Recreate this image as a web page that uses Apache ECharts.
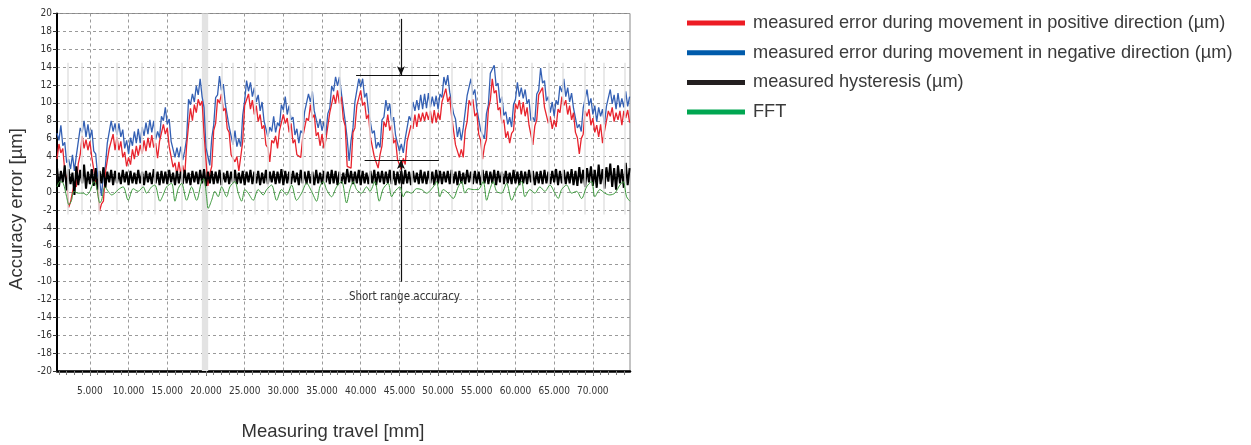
<!DOCTYPE html>
<html>
<head>
<meta charset="utf-8">
<script src="https://cdn.jsdelivr.net/npm/echarts@6/dist/echarts.min.js"></script>
<style>
html,body{margin:0;padding:0;background:#fff;}
#chart{width:1251px;height:445px;}
</style>
</head>
<body>
<div id="chart"></div>
<script>
// ---- data ----
const seriesNames = [
  'measured error during movement in positive direction (µm)',
  'measured error during movement in negative direction (µm)',
  'measured hysteresis (µm)',
  'FFT'
];
const xStart = 750;     // first sample position [mm]
const xStep = 250;      // sampling step [mm]

const negativeDir = [
  6.6,5.8,7.5,5.2,5.6,3.3,3.7,2.6,4.2,2.4,
  4.1,4.3,7.2,6.7,8.0,6.2,7.6,6.0,7.0,4.6,
  4.3,1.8,1.3,-0.4,2.1,2.9,5.5,5.4,8.0,6.8,
  7.7,6.4,7.7,6.2,7.0,4.9,5.8,4.3,6.1,5.2,
  6.8,5.5,7.1,5.5,7.3,6.3,7.8,6.5,8.1,6.7,
  8.0,5.9,6.8,6.1,8.5,8.0,9.5,7.6,8.2,5.7,
  5.8,3.9,5.0,3.9,5.1,3.6,4.6,6.0,10.4,9.8,
  11.0,10.1,11.9,10.9,12.7,10.7,9.5,5.0,4.0,3.0,
  6.1,7.5,10.6,10.9,13.0,11.4,12.1,9.9,10.0,7.3,
  7.1,5.3,6.9,5.1,6.0,5.1,8.6,10.2,12.5,11.3,
  12.3,10.7,11.7,10.1,10.9,9.1,10.1,8.0,8.2,6.2,
  7.3,6.8,8.5,6.7,7.8,7.4,9.8,9.2,10.7,8.7,
  9.7,8.1,8.4,6.4,7.1,5.5,6.9,6.6,9.0,8.8,
  11.0,10.1,11.3,9.1,9.2,7.2,8.2,6.9,7.9,6.4,
  8.8,9.4,11.9,11.3,12.9,11.9,12.9,11.1,11.1,7.9,
  6.0,3.5,5.8,7.2,10.1,10.2,12.7,11.8,12.7,10.6,
  11.1,9.1,9.1,6.6,6.9,4.9,5.6,5.0,8.1,8.4,
  10.3,9.1,9.9,7.9,8.4,6.4,6.6,4.6,5.4,4.4,
  6.0,6.2,8.5,8.0,10.1,9.1,10.3,9.2,10.9,9.3,
  11.0,9.4,11.1,9.5,10.7,9.6,10.8,9.3,11.0,10.6,
  12.9,12.0,13.1,11.2,11.4,8.8,8.2,6.2,7.3,5.8,
  7.2,7.4,10.8,10.8,12.7,10.9,11.5,9.4,9.4,6.9,
  6.7,6.0,8.8,9.8,13.3,13.2,14.2,11.9,12.2,10.0,
  10.7,8.6,9.0,7.6,8.4,7.3,9.8,10.4,12.3,10.7,
  11.7,10.5,11.5,9.9,10.4,8.0,8.4,7.9,11.0,11.4,
  13.9,12.2,12.5,10.2,10.7,8.9,10.1,8.5,10.3,9.8,
  11.9,11.2,12.7,10.7,11.7,10.1,11.1,9.4,9.6,7.2,
  7.6,6.8,9.4,9.6,11.5,9.7,10.5,8.7,9.7,7.9,
  9.5,8.5,9.3,7.6,9.6,9.6,11.5,9.9,10.9,9.3,
  11.1,9.5,10.5,9.5,11.3,9.6,10.7
];

const positiveDir = [
  3.7,5.4,4.4,4.9,2.4,1.5,-1.7,-1.1,-1.0,1.1,
  0.6,3.2,4.2,6.3,4.9,5.9,4.7,5.7,3.9,4.1,
  1.2,0.7,-2.1,-1.3,-1.0,2.2,2.4,4.9,4.9,6.5,
  4.7,6.2,4.7,5.7,3.9,4.5,2.9,3.9,3.1,4.8,
  3.7,5.2,4.1,5.3,4.3,5.8,4.6,6.1,5.0,6.4,
  5.0,5.5,3.8,5.7,5.5,7.6,6.5,7.2,5.1,5.3,
  2.8,3.3,1.9,3.4,2.0,3.0,1.8,5.2,7.5,9.4,
  8.0,9.8,8.9,10.4,9.7,10.2,6.6,3.7,0.7,2.1,
  2.9,6.9,7.7,10.4,10.0,11.0,9.1,9.4,7.1,6.7,
  4.2,4.4,3.4,4.0,2.4,4.0,5.7,9.7,9.5,11.0,
  9.3,10.3,8.7,9.7,7.9,8.7,7.1,7.5,5.3,5.0,
  3.4,5.8,5.5,6.3,4.9,6.9,6.9,8.7,7.7,8.3,
  6.7,7.7,5.5,5.9,4.2,4.3,3.9,6.1,6.0,8.3,
  8.0,9.8,8.3,8.7,6.3,6.7,5.2,6.5,4.9,5.9,
  5.9,8.9,8.9,10.9,9.9,11.4,9.9,10.7,8.2,7.4,
  2.9,2.9,2.7,6.7,7.2,9.7,9.7,11.4,9.7,10.1,
  8.2,8.7,6.2,6.1,4.0,4.1,2.7,4.2,5.2,7.9,
  7.3,8.7,6.9,7.5,5.5,5.9,3.7,3.9,2.5,3.8,
  3.1,5.7,5.5,7.5,7.1,8.7,7.3,8.8,7.9,8.9,
  8.0,9.0,8.1,9.1,7.7,9.2,7.8,8.9,8.1,10.1,
  9.9,11.6,10.1,10.7,8.5,8.3,5.3,5.1,3.9,4.8,
  3.9,6.9,7.9,10.3,9.7,10.4,8.5,8.9,6.5,5.8,
  3.7,5.2,5.9,9.3,10.3,12.7,11.1,11.4,9.2,9.5,
  7.7,8.1,6.1,6.8,5.5,6.6,6.9,9.9,9.3,10.3,
  8.7,10.1,8.5,9.5,7.5,7.5,5.3,7.4,8.1,10.9,
  10.9,11.7,9.5,9.7,7.7,8.5,7.1,8.1,7.3,9.3,
  8.9,10.7,9.7,10.3,8.7,9.7,8.1,8.9,6.7,6.1,
  4.3,6.0,6.5,9.1,8.5,9.3,7.5,8.3,6.7,7.5,
  6.2,7.6,5.5,6.8,6.7,9.1,8.5,9.5,7.9,8.9,
  8.1,9.1,7.5,9.1,8.3,9.2,7.8
];

const hysteresis = [
  2.8,0.6,2.4,1.1,3.0,0.2,2.6,0.9,2.2,-0.3,2.9,0.8,2.5,1.0,3.1,0.4,2.3,0.9,2.6,0.7,
  2.7,0.3,2.4,1.0,2.8,0.5,2.3,1.1,2.5,0.8,2.4,1.0,2.2,0.9,2.5,1.1,2.3,0.8,2.4,1.0,
  2.2,0.9,2.5,1.0,2.3,0.8,2.4,1.1,2.2,0.9,2.6,1.0,2.3,0.8,2.4,1.0,2.3,0.9,2.5,1.1,
  2.2,0.8,2.4,1.0,2.3,0.9,2.5,1.0,2.2,0.8,2.4,1.1,2.3,0.9,2.5,1.0,2.6,0.7,2.3,1.0,
  2.4,0.9,2.3,1.0,2.5,0.8,2.2,1.1,2.4,0.9,2.3,1.0,2.5,0.9,2.2,1.0,2.4,0.8,2.3,1.1,
  2.5,0.9,2.3,1.0,2.4,0.8,2.2,1.0,2.5,0.9,2.3,1.1,2.4,0.9,2.3,1.0,2.6,0.8,2.4,1.0,
  2.3,0.9,2.4,1.1,2.2,0.8,2.5,1.0,2.3,0.9,2.4,1.0,2.3,0.8,2.5,1.0,2.2,0.9,2.4,1.1,
  2.3,0.9,2.5,1.0,2.4,0.8,2.3,1.0,2.2,0.9,2.6,1.1,2.4,0.9,2.3,1.0,2.5,0.8,2.4,1.0,
  2.2,0.9,2.4,1.0,2.5,0.8,2.3,1.1,2.4,0.9,2.3,1.0,2.5,0.9,2.4,0.8,2.3,1.0,2.4,0.9,
  2.5,1.0,2.3,0.8,2.4,1.1,2.2,0.9,2.5,1.0,2.3,0.9,2.4,1.0,2.3,0.8,2.5,1.0,2.4,0.9,
  2.3,1.1,2.4,0.9,2.5,1.0,2.3,0.8,2.4,1.0,2.2,0.9,2.5,1.1,2.3,0.9,2.4,1.0,2.3,0.8,
  2.5,1.0,2.4,0.9,2.3,1.0,2.5,0.8,2.4,1.1,2.3,0.9,2.4,1.0,2.2,0.9,2.5,1.0,2.3,0.8,
  2.4,1.0,2.3,0.9,2.5,1.1,2.4,0.8,2.3,1.0,2.4,0.9,2.5,1.0,2.3,0.9,2.4,1.1,2.6,0.8,
  2.4,1.0,2.5,0.9,2.3,1.0,2.6,0.8,2.4,0.7,2.8,1.0,2.5,0.6,2.7,1.1,2.9,0.7,2.5,0.5,
  3.1,0.9,2.6,0.4,2.8,1.2,3.2,0.6,2.7,0.3,3.0,1.0,2.6,0.5,3.3,0.8,2.7
];

// FFT curve: [position mm, value µm]
const fftPoints = [
  [750,0.6],[1120,1.2],[1550,1.0],[1990,-0.5],[2290,-1.4],[2630,-0.9],[2930,0.1],[3490,-0.1],
  [4140,-0.1],[4570,-0.3],[5000,0.1],[5560,1.2],[5860,0.6],[6290,-1.2],[6510,-0.9],[6940,0.6],
  [7370,0.1],[7800,-0.3],[8230,-0.1],[8660,0.3],[9300,0.6],[9950,-0.9],[10600,0.4],[11240,0.1],
  [11890,0.6],[12320,-0.1],[12970,0.6],[13400,0.8],[14050,-1.0],[14470,-0.3],[14910,0.6],[15560,1.0],
  [15990,-1.0],[16410,0.4],[16850,1.0],[17500,-0.9],[18140,0.6],[18790,-0.9],[19430,1.2],[19730,1.5],
  [20080,-0.5],[20290,-1.8],[20730,-0.9],[21160,0.1],[21580,-0.5],[22020,0.6],[22670,-0.5],[23090,0.6],
  [23740,1.2],[24170,-0.1],[24610,-1.0],[25030,0.3],[25460,-0.1],[26110,-0.9],[26750,0.3],[27400,-0.3],
  [27840,0.3],[28480,0.8],[29130,-0.9],[29770,0.3],[30420,-0.3],[31070,0.8],[31710,-0.9],[32360,-0.1],
  [33010,1.0],[33650,0.1],[34300,-1.0],[34720,0.6],[35150,1.2],[35590,0.3],[36230,-0.5],[36880,0.6],
  [37530,1.2],[38170,-1.2],[38600,0.3],[39030,1.2],[39470,0.3],[40110,-0.1],[40760,0.6],[41190,0.1],
  [41830,1.2],[42390,-1.0],[42910,0.4],[43550,1.0],[43990,-0.5],[44420,0.1],[45060,0.6],[45490,-0.5],
  [45920,0.1],[46570,-0.1],[47210,0.4],[47860,0.3],[48510,-0.1],[49370,0.6],[49810,1.2],[50230,-0.5],
  [50660,0.3],[51310,-0.1],[51950,-0.7],[52600,0.6],[53040,1.2],[53460,-0.1],[53890,0.4],[54540,0.3],
  [55180,0.3],[55830,1.2],[56270,-0.9],[56690,0.3],[57120,1.2],[57560,0.1],[58200,-0.1],[58850,1.0],
  [59500,-0.9],[60140,0.4],[60790,1.2],[61220,-0.5],[61860,0.3],[62510,-0.1],[63150,0.6],[63800,0.1],
  [64450,0.8],[65090,-0.1],[65520,-0.7],[65960,0.3],[66610,0.8],[67250,-0.1],[67900,0.1],[68540,-0.7],
  [69190,0.6],[69840,1.2],[70260,-0.5],[70910,0.3],[71540,-0.1],[72190,-0.3],[72840,-0.1],[73490,0.8],
  [73920,1.2],[74360,-0.5],[74790,-1.0]
];

// axis values and tick labels
const xMin = 750, xMax = 74800;
const xTickValues = [5000,10000,15000,20000,25000,30000,35000,40000,45000,50000,55000,60000,65000,70000];
const xTickLabels = ['5.000','10.000','15.000','20.000','25.000','30.000','35.000','40.000','45.000','50.000','55.000','60.000','65.000','70.000'];
const yMin = -20, yMax = 20, yInterval = 2;

// faint vertical marker lines and highlighted band in the original
const markerX = [2100,3900,6100,8450,11750,13400,16850,22000,23500,26300,28050,30850,32550,33650,35350,37300,
  41200,44000,46550,48950,51750,54350,55600,58200,62100,64250,66150,68950,71350,74150];
const markerRange = [-2.5, 14.5];
const bandRange = [19470, 20290];

// annotation "Short range accuracy"
const annoTopLine = [[39400, 13.1], [50100, 13.1]];
const annoBottomLine = [[40500, 3.6], [50100, 3.6]];
const annoArrowDown = [[45200, 19.4], [45200, 13.1]];
const annoArrowUp = [[45200, -10.0], [45200, 3.6]];
const annoText = 'Short range accuracy';
const annoTextPos = [45650, -11.7];

// ---- build ----
const xs = negativeDir.map((_, i) => xStart + i * xStep);
const pair = arr => arr.map((v, i) => [xs[i], v]);
const minorTicks = [];
for (let v = 1000; v <= 74000; v += 1000) minorTicks.push(v);

const narrow = "'Liberation Sans Narrow', 'Arial Narrow', 'DejaVu Sans Condensed', sans-serif";
const sans = "'Liberation Sans', Arial, sans-serif";

const chart = echarts.init(document.getElementById('chart'), null, {renderer: 'canvas'});
const seg = p => [{coord: p[0]}, {coord: p[1]}];

chart.setOption({
  animation: false,
  backgroundColor: '#fff',
  grid: {left: 57, right: 621, top: 13.5, bottom: 74, show: true, borderColor: '#888', borderWidth: 1, backgroundColor: 'transparent'},
  legend: {
    orient: 'vertical', left: 682, top: 8, itemWidth: 58, itemHeight: 5, itemGap: 9.7, icon: 'rect',
    selectedMode: false,
    textStyle: {fontFamily: sans, fontSize: 18.2, color: '#3a3a3a', lineHeight: 20, padding: [0, 0, 0, 3]},
    data: [
      {name: seriesNames[0], itemStyle: {color: '#ed1c24'}},
      {name: seriesNames[1], itemStyle: {color: '#005bab'}},
      {name: seriesNames[2], itemStyle: {color: '#231f20'}},
      {name: seriesNames[3], itemStyle: {color: '#00a651'}}
    ]
  },
  xAxis: [
    {
      type: 'value', min: xMin, max: xMax, position: 'bottom',
      axisLine: {show: true, onZero: false, lineStyle: {color: '#000', width: 2.5}},
      axisTick: {show: true, customValues: xTickValues, length: 5, lineStyle: {color: '#666'}},
      axisLabel: {
        customValues: xTickValues, margin: 15,
        formatter: v => xTickLabels[xTickValues.indexOf(v)] || '',
        fontFamily: narrow, fontSize: 10, color: '#333'
      },
      splitLine: {show: true, lineStyle: {type: [3, 3], color: '#9a9a9a', width: 1}}
    },
    {
      type: 'value', min: xMin, max: xMax, position: 'bottom',
      axisLine: {show: false, onZero: false},
      axisTick: {show: true, customValues: minorTicks, length: 4, lineStyle: {color: '#777'}},
      axisLabel: {show: false},
      splitLine: {show: false}
    }
  ],
  yAxis: {
    type: 'value', min: yMin, max: yMax, interval: yInterval,
    axisLine: {show: true, onZero: false, lineStyle: {color: '#000', width: 2}},
    axisTick: {show: true, length: 4, lineStyle: {color: '#333'}},
    axisLabel: {fontFamily: narrow, fontSize: 10, color: '#333', margin: 5},
    splitLine: {show: true, lineStyle: {type: [3, 3], color: '#9a9a9a', width: 1}}
  },
  graphic: [
    {type: 'text', x: 333, y: 432, style: {text: 'Measuring travel [mm]', font: '18.5px ' + sans, fill: '#333', textAlign: 'center', textVerticalAlign: 'middle'}},
    {type: 'text', x: 17, y: 209, rotation: Math.PI / 2, style: {text: 'Accuracy error [µm]', font: '18.5px ' + sans, fill: '#333', textAlign: 'center', textVerticalAlign: 'middle'}}
  ],
  series: [
    {
      name: 'background', type: 'line', data: [], z: 1, silent: true,
      markArea: {silent: true, itemStyle: {color: '#e3e3e3'}, data: [[{xAxis: bandRange[0]}, {xAxis: bandRange[1]}]]},
      markLine: {
        silent: true, symbol: ['none', 'none'], label: {show: false},
        lineStyle: {color: '#e2e2e2', width: 1.5, type: 'solid'},
        data: markerX.map(x => [{coord: [x, markerRange[0]]}, {coord: [x, markerRange[1]]}])
      }
    },
    {name: seriesNames[1], type: 'line', data: pair(negativeDir), showSymbol: false, z: 2,
      lineStyle: {color: '#3460b4', width: 1.3}, itemStyle: {color: '#3460b4'}},
    {name: seriesNames[0], type: 'line', data: pair(positiveDir), showSymbol: false, z: 3,
      lineStyle: {color: '#e8242e', width: 1.3}, itemStyle: {color: '#e8242e'}},
    {name: seriesNames[2], type: 'line', data: pair(hysteresis), showSymbol: false, z: 4,
      lineStyle: {color: '#000', width: 2}, itemStyle: {color: '#000'}},
    {name: seriesNames[3], type: 'line', data: fftPoints, showSymbol: false, z: 5, smooth: 0.3,
      lineStyle: {color: '#3d9a3d', width: 1}, itemStyle: {color: '#3d9a3d'}},
    {
      name: 'annotation', type: 'line', data: [], z: 6, silent: true,
      markLine: {
        silent: true, label: {show: false}, symbol: ['none', 'none'],
        lineStyle: {color: '#111', width: 1.2, type: 'solid'},
        data: [
          seg(annoTopLine),
          seg(annoBottomLine),
          [{coord: annoArrowDown[0], symbol: 'none'}, {coord: annoArrowDown[1], symbol: 'arrow', symbolSize: [6, 9]}],
          [{coord: annoArrowUp[0], symbol: 'none'}, {coord: annoArrowUp[1], symbol: 'arrow', symbolSize: [6, 9]}]
        ]
      },
      markPoint: {
        silent: true, symbol: 'circle', symbolSize: 0,
        label: {show: true, position: 'inside', formatter: annoText, color: '#333', fontFamily: narrow, fontSize: 11.5},
        data: [{coord: annoTextPos}]
      }
    }
  ]
});
</script>
</body>
</html>
